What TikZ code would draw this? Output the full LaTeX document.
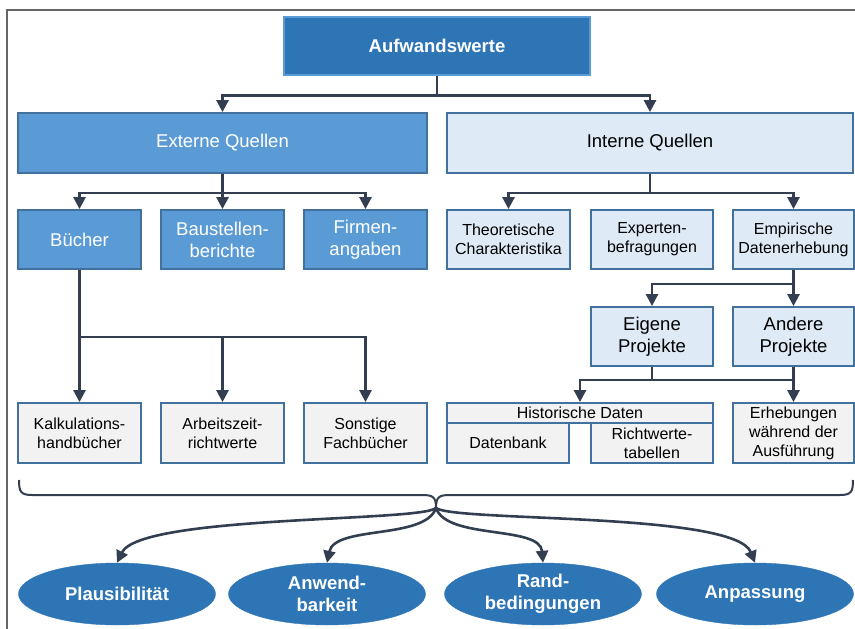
\documentclass[tikz,border=0pt]{standalone}
\usepackage{fontspec}
\setmainfont{Liberation Sans}
\usetikzlibrary{arrows.meta,shapes.geometric}
\definecolor{dkblue}{HTML}{2E75B6}
\definecolor{mdblue}{HTML}{5B9BD5}
\definecolor{ltblue}{HTML}{DEEBF7}
\definecolor{ltgray}{HTML}{F2F2F2}
\definecolor{bord}{HTML}{41719C}
\definecolor{conncol}{HTML}{333F50}
\definecolor{framecol}{HTML}{666666}
\tikzset{
  boxbase/.style={draw=bord, line width=1.8pt, align=center, inner sep=0pt, anchor=center},
  bigtxt/.style={font=\fontsize{18.5}{22}\selectfont},
  smalltxt/.style={font=\fontsize{16}{19}\selectfont},
  topbox/.style={boxbase, fill=dkblue, draw=mdblue, line width=1.2pt, text=white, font=\fontsize{18.5}{22}\selectfont\bfseries},
  extbox/.style={boxbase, bigtxt, fill=mdblue, text=white},
  intbox/.style={boxbase, fill=ltblue, text=black},
  leafbox/.style={boxbase, smalltxt, fill=ltgray, text=black},
  oval/.style={ellipse, fill=dkblue, draw=dkblue, text=white, align=center, inner sep=0pt,
    minimum width=197pt, minimum height=62pt, font=\fontsize{18.5}{22}\selectfont\bfseries},
  conn/.style={draw=conncol, line width=2.6pt, -{Triangle[length=12pt,width=12pt]}},
  plainline/.style={draw=conncol, line width=2.6pt},
  bracestyle/.style={draw=conncol, line width=2pt},
}
\begin{document}
\begin{tikzpicture}[x=1pt,y=-1pt]
\useasboundingbox (0,0) rectangle (855,629);
% frame
\draw[framecol, line width=2.2pt] (7,629) -- (7,10) -- (855,10);

% level 0
\node[topbox, minimum width=306pt, minimum height=58pt] (top) at (437,46) {Aufwandswerte};
% level 1
\node[extbox, minimum width=409pt, minimum height=60pt] (ext) at (222.5,143) {\raisebox{-2pt}{Externe Quellen}};
\node[intbox, bigtxt, minimum width=406pt, minimum height=60pt] (int) at (650,143) {\raisebox{-2pt}{Interne Quellen}};
% level 2 external
\node[extbox, minimum width=123pt, minimum height=59pt] (buecher) at (79.5,239.5) {Bücher};
\node[extbox, minimum width=123pt, minimum height=59pt] (baust) at (222.5,239.5) {Baustellen-\\berichte};
\node[extbox, minimum width=123pt, minimum height=59pt] (firmen) at (365.5,239.5) {Firmen-\\angaben};
% level 2 internal
\node[intbox, smalltxt, minimum width=123pt, minimum height=59pt] (theo) at (508.5,239.5) {Theoretische\\Charakteristika};
\node[intbox, smalltxt, minimum width=122pt, minimum height=59pt] (exp) at (652,239.5) {Experten-\\befragungen};
\node[intbox, smalltxt, minimum width=121pt, minimum height=59pt] (emp) at (793.5,239.5) {Empirische\\Datenerhebung};
% level 3 internal
\node[intbox, bigtxt, minimum width=122pt, minimum height=59pt] (eigene) at (652,336.5) {Eigene\\Projekte};
\node[intbox, bigtxt, minimum width=121pt, minimum height=59pt] (andere) at (793.5,336.5) {Andere\\Projekte};
% leaves
\node[leafbox, minimum width=123pt, minimum height=60pt] (kalk) at (79.5,433) {Kalkulations-\\handbücher};
\node[leafbox, minimum width=123pt, minimum height=60pt] (arb) at (222.5,433) {Arbeitszeit-\\richtwerte};
\node[leafbox, minimum width=123pt, minimum height=60pt] (sonst) at (365.5,433) {Sonstige\\Fachbücher};
\node[leafbox, minimum width=122pt, minimum height=40pt] (daten) at (508,443) {Datenbank};
\node[leafbox, minimum width=122pt, minimum height=40pt] (richt) at (652,443) {Richtwerte-\\tabellen};
\node[leafbox, minimum width=266pt, minimum height=20pt] (hist) at (580,413) {Historische Daten};
\node[leafbox, minimum width=121pt, minimum height=60pt] (erheb) at (793.5,433) {Erhebungen\\während der\\Ausführung};

% connectors
\draw[conn] (top.south) -- ++(0,20) -| (ext.north);
\draw[conn] (top.south) -- ++(0,20) -| (int.north);
\draw[conn] (ext.south) -- ++(0,19) -| (buecher.north);
\draw[conn] (ext.south) -- ++(0,19) -| (baust.north);
\draw[conn] (ext.south) -- ++(0,19) -| (firmen.north);
\draw[conn] (int.south) -- ++(0,19) -| (theo.north);
\draw[conn] (int.south) -- ++(0,19) -| (emp.north);
\draw[conn] (emp.south) -- ++(0,14) -| (eigene.north);
\draw[conn] (emp.south) -- (andere.north);
\draw[conn] (buecher.south) -- (kalk.north);
\draw[conn] (buecher.south) -- ++(0,67) -| (arb.north);
\draw[conn] (buecher.south) -- ++(0,67) -| (sonst.north);
\draw[conn] (andere.south) -- (erheb.north);
\draw[conn] (andere.south) -- ++(0,13) -| (hist.north);
\draw[plainline] (eigene.south) -- ++(0,13);

% brace
\coordinate (bl) at (19,480);
\coordinate (br) at (853,480);
\coordinate (tip) at (436,508);
\draw[bracestyle] (bl) .. controls (19,492) and (21,495) .. (32,495) -- (422,495)
  .. controls (433,495) and (436,497) .. (tip)
  .. controls (436,497) and (439,495) .. (450,495) -- (840,495)
  .. controls (851,495) and (853,492) .. (br);

% ellipses
\node[oval] (plaus) at (117,594) {Plausibilität};
\node[oval] (anw) at (327,594) {Anwend-\\barkeit};
\node[oval] (rand) at (543,594) {Rand-\\bedingungen};
\node[oval] (anp) at (755,594) {Anpassung};

\draw[conn] (tip) .. controls (420,522) and (140,515) .. (plaus.north);
\draw[conn] (tip) .. controls (425,540) and (335,525) .. (anw.north);
\draw[conn] (tip) .. controls (447,540) and (540,525) .. (rand.north);
\draw[conn] (tip) .. controls (455,522) and (735,512) .. (anp.north);
\end{tikzpicture}
\end{document}
